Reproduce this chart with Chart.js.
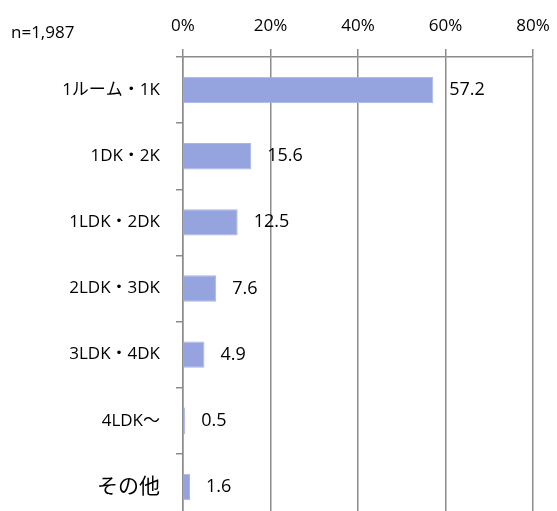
<!DOCTYPE html>
<html>
<head>
<meta charset="utf-8">
<script src="https://cdn.jsdelivr.net/npm/chart.js@4"></script>
<style>
  html, body { margin: 0; padding: 0; background: #fff; overflow: hidden; }
</style>
</head>
<body>
<canvas id="roomChart" width="557" height="520"></canvas>
<script>
// --- data ---
const categories = ['1ルーム・1K', '1DK・2K', '1LDK・2DK', '2LDK・3DK', '3LDK・4DK', '4LDK～', 'その他'];
const shares = [57.2, 15.6, 12.5, 7.6, 4.9, 0.5, 1.6];
const xTicks = [0, 20, 40, 60, 80];
const sampleNote = 'n=1,987';

const FONT = "'Open Sans', 'Noto Sans CJK JP', sans-serif";
const gridGray = '#8c8c8c';

// value labels + n= note
const labelPlugin = {
    id: 'labels',
    afterDatasetsDraw(chart) {
        const ctx = chart.ctx;
        const meta = chart.getDatasetMeta(0);
        ctx.save();
        ctx.fillStyle = '#000';
        ctx.font = '18px ' + FONT;
        ctx.textBaseline = 'middle';
        ctx.textAlign = 'left';
        meta.data.forEach((bar, i) => {
            ctx.fillText(shares[i].toFixed(1), bar.x + 16, bar.y);
        });
        ctx.font = '17px ' + FONT;
        ctx.fillText(sampleNote, 11, 33);
        ctx.restore();
    }
};

new Chart(document.getElementById('roomChart'), {
    type: 'bar',
    data: {
        labels: categories,
        datasets: [{
            data: shares,
            backgroundColor: '#95a4df',
            borderColor: '#a9b5e6',
            borderWidth: 1,
            barPercentage: 0.4,
            categoryPercentage: 1
        }]
    },
    options: {
        indexAxis: 'y',
        responsive: false,
        animation: false,
        layout: { padding: { top: 0, right: 24, left: 0, bottom: 0 } },
        plugins: { legend: { display: false }, tooltip: { enabled: false } },
        scales: {
            x: {
                position: 'top',
                min: 0,
                max: 80,
                afterBuildTicks: (scale) => { scale.ticks = xTicks.map(v => ({ value: v })); },
                afterFit: (scale) => {
                    scale.height = 57;
                    scale.paddingLeft = 0;
                    scale.paddingRight = 0;
                },
                grid: { color: gridGray, lineWidth: 1.5, tickLength: 8 },
                border: { color: gridGray, width: 1.5 },
                ticks: {
                    color: '#000',
                    padding: 13,
                    font: { family: FONT, size: 17 },
                    callback: (v) => v + '%'
                }
            },
            y: {
                afterFit: (scale) => {
                    scale.width = 183;
                    scale.paddingTop = 0;
                    scale.paddingBottom = 0;
                },
                grid: { drawOnChartArea: false, color: gridGray, lineWidth: 1.5, tickLength: 7 },
                border: { color: gridGray, width: 1.5 },
                ticks: {
                    color: '#000',
                    padding: 16,
                    font: (c) => ({ family: FONT, size: c.index === 6 ? 21 : 17 })
                }
            }
        }
    },
    plugins: [labelPlugin]
});
</script>
</body>
</html>
